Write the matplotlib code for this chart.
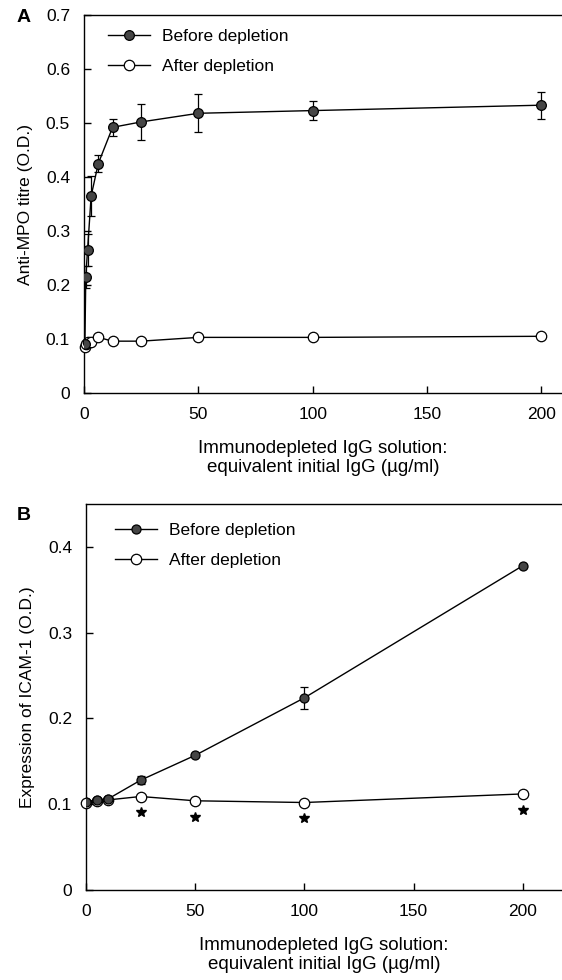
import matplotlib
matplotlib.use("Agg")
import matplotlib.pyplot as plt
from matplotlib.lines import Line2D
from matplotlib.transforms import offset_copy

plt.rcParams['font.family'] = ['Liberation Sans', 'DejaVu Sans']

# ---- Panel A data ----
xA = [0.39, 0.78, 1.56, 3.125, 6.25, 12.5, 25, 50, 100, 200]
beforeA = [0.09, 0.215, 0.265, 0.365, 0.425, 0.492, 0.502, 0.518, 0.523, 0.533]
beforeA_err = [0.0, 0.02, 0.03, 0.037, 0.015, 0.016, 0.033, 0.035, 0.018, 0.025]
afterA = [0.085, 0.090, 0.094, 0.094, 0.103, 0.096, 0.096, 0.103, 0.103, 0.105]

# ---- Panel B data ----
xB = [0, 5, 10, 25, 50, 100, 200]
beforeB = [0.103, 0.105, 0.106, 0.128, 0.157, 0.224, 0.378]
beforeB_err = [0.0, 0.0, 0.0, 0.005, 0.0, 0.013, 0.0]
afterB = [0.102, 0.104, 0.105, 0.109, 0.104, 0.102, 0.112]
starsB = [25, 50, 100, 200]

xticks = [0, 50, 100, 150, 200]
yticksA = [0, 0.1, 0.2, 0.3, 0.4, 0.5, 0.6, 0.7]
yticklabA = ['0', '0.1', '0.2', '0.3', '0.4', '0.5', '0.6', '0.7']
yticksB = [0, 0.1, 0.2, 0.3, 0.4]
yticklabB = ['0', '0.1', '0.2', '0.3', '0.4']
labels = ['Before depletion', 'After depletion']
xlabel = "Immunodepleted IgG solution:\nequivalent initial IgG (\u00b5g/ml)"

W, H = 562, 980
fig = plt.figure(figsize=(W / 100, H / 100), dpi=100)

FS = 12.5
FILL = '#454545'


def style(ax):
    ax.spines['right'].set_visible(False)
    for s in ['top', 'left', 'bottom']:
        ax.spines[s].set_linewidth(1.0)
    ax.tick_params(direction='in', length=5, width=1, labelsize=FS, pad=10)


def legend(ax, x0, y0, ms_f):
    h = [Line2D([], [], color='black', lw=1.0, marker='o', ms=ms_f, mfc=FILL, mec='black', mew=0.9),
         Line2D([], [], color='black', lw=1.0, marker='o', ms=7.5, mfc='white', mec='black', mew=0.9)]
    ax.legend(h, labels, loc='upper left', bbox_to_anchor=(x0 / W, 1 - y0 / H),
              bbox_transform=fig.transFigure, frameon=False, fontsize=FS,
              handlelength=2.4, handletextpad=0.7, labelspacing=0.85,
              borderpad=0, borderaxespad=0)


axA = fig.add_axes([84 / W, 1 - 393 / H, 1 - 84 / W, (393 - 15) / H])
axA.errorbar(xA, beforeA, yerr=beforeA_err, color='black', lw=1.0, marker='o',
             ms=7, mfc=FILL, mec='black', mew=0.9, capsize=3, elinewidth=0.9,
             capthick=0.9, zorder=3)
axA.plot(xA, afterA, color='black', lw=1.0, marker='o', ms=7.5, mfc='white',
         mec='black', mew=0.9, zorder=3, clip_on=False)
axA.set_xlim(0, 209)
axA.set_ylim(0, 0.7)
axA.set_xticks(xticks)
axA.set_yticks(yticksA)
axA.set_yticklabels(yticklabA)
axA.set_ylabel('Anti-MPO titre (O.D.)', fontsize=FS, labelpad=9)
axA.set_xlabel(xlabel, fontsize=13.5, labelpad=13, linespacing=1.15)
style(axA)
legend(axA, 108, 29, 7)
fig.text(17 / W, 1 - 18 / H, 'A', fontsize=14, fontweight='bold', va='center', ha='left')

axB = fig.add_axes([86 / W, 1 - 890 / H, 1 - 86 / W, (890 - 504) / H])
axB.errorbar(xB, beforeB, yerr=beforeB_err, color='black', lw=1.0, marker='o',
             ms=6.5, mfc=FILL, mec='black', mew=0.9, capsize=3, elinewidth=0.9,
             capthick=0.9, zorder=3)
axB.plot(xB, afterB, color='black', lw=1.0, marker='o', ms=7.5, mfc='white',
         mec='black', mew=0.9, zorder=3, clip_on=False)
star_tr = offset_copy(axB.transData, fig=fig, x=0, y=-11.5, units='points')
axB.plot(starsB, [afterB[xB.index(s)] for s in starsB], linestyle='none',
         marker='*', ms=7.5, color='black', transform=star_tr)
axB.set_xlim(0, 218)
axB.set_ylim(0, 0.45)
axB.set_xticks(xticks)
axB.set_yticks(yticksB)
axB.set_yticklabels(yticklabB)
axB.set_ylabel('Expression of ICAM-1 (O.D.)', fontsize=FS, labelpad=9)
axB.set_xlabel(xlabel, fontsize=13.5, labelpad=13, linespacing=1.15)
style(axB)
legend(axB, 115, 523, 6.5)
fig.text(17 / W, 1 - 516 / H, 'B', fontsize=14, fontweight='bold', va='center', ha='left')

fig.savefig('out.png', dpi=100)
